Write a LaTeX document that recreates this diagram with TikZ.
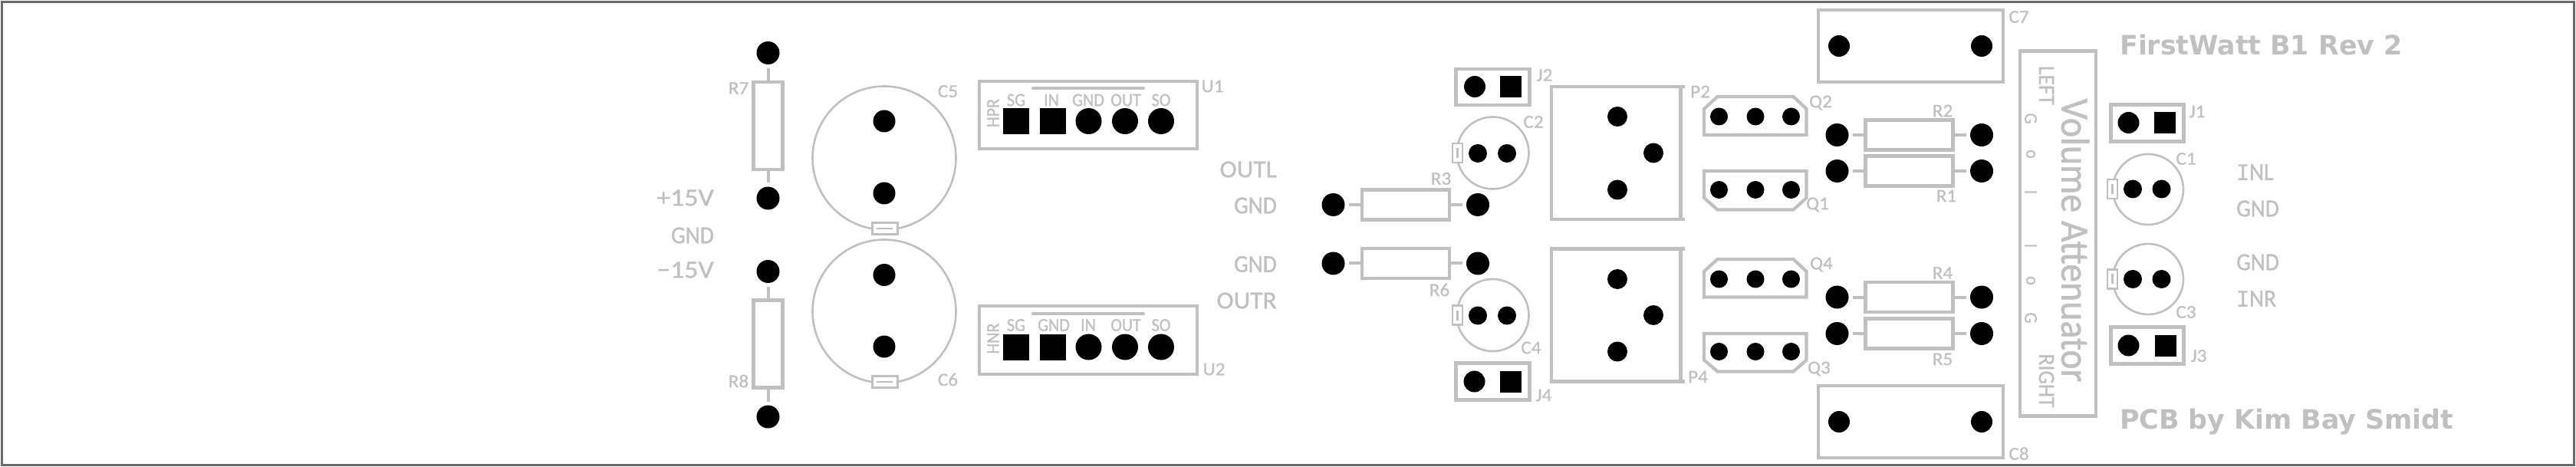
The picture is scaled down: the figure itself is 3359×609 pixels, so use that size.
\documentclass[tikz,border=0pt]{standalone}
\usepackage{fontspec}
\setmainfont{Carlito}[FakeBold=1.0,FakeStretch=0.92]
\newfontfamily\reffont{Carlito}[FakeBold=1.0,FakeStretch=1.05]
\newfontfamily\widefont{Carlito}[FakeBold=1.0,FakeStretch=1.12]
\newfontfamily\titlefont{DejaVu Sans}
\newfontfamily\serifi{DejaVu Sans Mono}[FakeBold=0.6]
\newcommand{\wideI}{{\serifi\fontsize{28}{28}\selectfont I}}
\definecolor{silk}{HTML}{C0C0C0}
\definecolor{framegray}{HTML}{6A6A6A}
\tikzset{
  hole/.style={circle,fill=black,inner sep=0pt,outer sep=0pt,minimum size=#1},
  hole/.default=30pt,
  sqpad/.style={rectangle,fill=black,inner sep=0pt,outer sep=0pt,minimum size=#1},
  sqpad/.default=34pt,
  body/.style={rectangle,draw=silk,line width=4.2pt,fill=white,inner sep=0pt,outer sep=0pt,minimum width=#1},
  lead/.style={draw=silk,line width=4pt,shorten <=5pt},
  can/.style={circle,draw=silk,line width=2.6pt,inner sep=0pt,outer sep=0pt,minimum size=#1},
  tab/.style={rectangle,draw=silk,fill=white,line width=2.2pt,inner sep=0pt,outer sep=0pt},
  tabbar/.style={draw=silk,line width=2.2pt},
  outline/.style={draw=silk,line width=4.2pt},
  lbl/.style={text=silk,inner sep=0pt,font=\reffont\fontsize{24}{24}\selectfont},
  pinlbl/.style={text=silk,inner sep=0pt,font=\fontsize{24}{24}\selectfont},
  biglbl/.style={text=silk,inner sep=0pt,font=\fontsize{32}{32}\selectfont},
  titlelbl/.style={text=silk,inner sep=0pt,anchor=west,font=\titlefont\bfseries\fontsize{34.8}{34.8}\selectfont},
}
\begin{document}
\begin{tikzpicture}[x=1pt,y=-1pt]
  \useasboundingbox (0,0) rectangle (3359,609);
  \draw[framegray,line width=3pt] (2.5,2.5) rectangle (3356.5,606.5);
  % supply side
  \node[hole] (R7a) at (1001.5,69) {};
  \node[hole] (R7b) at (1001.5,258.5) {};
  \node[body=38pt,minimum height=114pt] (R7) at (1001.5,164) {};
  \node[hole] (R8a) at (1001.5,354) {};
  \node[hole] (R8b) at (1001.5,543.5) {};
  \node[body=38pt,minimum height=114pt] (R8) at (1001.5,448.5) {};
  \path[lead] (R7a) -- (R7);
  \path[lead] (R7b) -- (R7);
  \path[lead] (R8a) -- (R8);
  \path[lead] (R8b) -- (R8);
  \node[lbl] (R7t) at (963,115) {R7};
  \node[lbl] (R8t) at (963,497) {R8};
  \node[biglbl,anchor=east,font=\widefont\fontsize{32}{32}\selectfont] (Vp) at (931,258) {+15V};
  \node[biglbl,anchor=east] (Vg) at (931,307) {GND};
  \node[biglbl,anchor=east,font=\widefont\fontsize{32}{32}\selectfont] (Vn) at (931,352) {−15V};
  \node[can=187pt] (C5) at (1153,206) {};
  \node[can=187pt] (C6) at (1153,406) {};
  \node[hole=29pt] (C5a) at (1153,158) {};
  \node[hole=29pt] (C5b) at (1153,252) {};
  \node[hole=29pt] (C6a) at (1153,358.5) {};
  \node[hole=29pt] (C6b) at (1153,452) {};
  \node[tab,minimum width=33pt,minimum height=15pt] (C5k) at (1154,298) {};
  \node[tab,minimum width=33pt,minimum height=15pt] (C6k) at (1154,498) {};
  \draw[tabbar] (1143,298) -- (1164,298);
  \draw[tabbar] (1143,498) -- (1164,498);
  \node[lbl] (C5t) at (1236,119) {C5};
  \node[lbl] (C6t) at (1236,495) {C6};
  % hybrid modules
  \node[body=284pt,minimum height=88pt] (U1) at (1419,150) {};
  \node[body=284pt,minimum height=89pt] (U2) at (1419,443.5) {};
  \draw[silk,line width=4pt,line cap=round] (1347,115) -- (1491,115);
  \draw[silk,line width=4pt,line cap=round] (1347,409) -- (1491,409);
  \node[sqpad] (U1p1) at (1325,158) {};
  \node[sqpad] (U1p2) at (1372.5,158) {};
  \node[hole=34pt] (U1p3) at (1419.5,158) {};
  \node[hole=34pt] (U1p4) at (1467,158) {};
  \node[hole=34pt] (U1p5) at (1514,158) {};
  \node[sqpad] (U2p1) at (1325,452.5) {};
  \node[sqpad] (U2p2) at (1372.5,452.5) {};
  \node[hole=34pt] (U2p3) at (1419.5,452.5) {};
  \node[hole=34pt] (U2p4) at (1467,452.5) {};
  \node[hole=34pt] (U2p5) at (1514,452.5) {};
  \node[pinlbl,rotate=90] (U1n) at (1295,147.5) {HPR};
  \node[pinlbl] (U1a) at (1325,130.5) {SG};
  \node[pinlbl] (U1b) at (1371,130.5) {IN};
  \node[pinlbl] (U1c) at (1419,130.5) {GND};
  \node[pinlbl] (U1d) at (1468,130.5) {OUT};
  \node[pinlbl] (U1e) at (1514,130.5) {SO};
  \node[pinlbl,rotate=90] (U2n) at (1295,441.5) {HNR};
  \node[pinlbl] (U2a) at (1325,424) {SG};
  \node[pinlbl] (U2b) at (1374,424) {GND};
  \node[pinlbl] (U2c) at (1419,424) {IN};
  \node[pinlbl] (U2d) at (1468,424) {OUT};
  \node[pinlbl] (U2e) at (1514,424) {SO};
  \node[lbl] (U1t) at (1581,112.5) {U1};
  \node[lbl] (U2t) at (1583,481.5) {U2};
  % outputs
  \node[biglbl,anchor=east,font=\reffont\fontsize{32}{32}\selectfont] (OL) at (1665,221) {OUTL};
  \node[biglbl,anchor=east] (OLg) at (1665,268) {GND};
  \node[biglbl,anchor=east] (ORg) at (1665,344.5) {GND};
  \node[biglbl,anchor=east,font=\reffont\fontsize{32}{32}\selectfont] (OR) at (1665,392) {OUTR};
  \node[hole] (R3a) at (1738.5,267) {};
  \node[hole] (R3b) at (1927,267) {};
  \node[body=114pt,minimum height=39pt] (R3) at (1833,267) {};
  \node[hole] (R6a) at (1738.5,343.5) {};
  \node[hole] (R6b) at (1927,343.5) {};
  \node[body=114pt,minimum height=39pt] (R6) at (1833,343.5) {};
  \path[lead] (R3a) -- (R3);
  \path[lead] (R3b) -- (R3);
  \path[lead] (R6a) -- (R6);
  \path[lead] (R6b) -- (R6);
  \node[lbl] (R3t) at (1879,233) {R3};
  \node[lbl] (R6t) at (1877,378) {R6};
  \node[body=96pt,minimum height=47pt] (J2) at (1946.5,113.5) {};
  \node[hole=28pt] (J2a) at (1923,113) {};
  \node[sqpad=28pt] (J2b) at (1970,113) {};
  \node[lbl] (J2t) at (2014,98) {J2};
  \node[body=96pt,minimum height=48pt] (J4) at (1946.5,497.5) {};
  \node[hole=28pt] (J4a) at (1922.5,497.5) {};
  \node[sqpad=28pt] (J4b) at (1969.5,497.5) {};
  \node[lbl] (J4t) at (2013,515.5) {J4};
  \node[can=94pt] (C2) at (1946.5,199.5) {};
  \node[can=94pt] (C4) at (1946.5,411) {};
  \node[tab,minimum width=13pt,minimum height=25pt] (C2k) at (1900.5,199.5) {};
  \node[tab,minimum width=13pt,minimum height=25pt] (C4k) at (1900.5,411) {};
  \draw[tabbar] (1900.5,193) -- (1900.5,206);
  \draw[tabbar] (1900.5,404.5) -- (1900.5,417.5);
  \node[hole=24pt] (C2a) at (1927,200) {};
  \node[hole=24pt] (C2b) at (1965,200) {};
  \node[hole=24pt] (C4a) at (1927,411.5) {};
  \node[hole=24pt] (C4b) at (1965,411.5) {};
  \node[lbl] (C2t) at (1999.5,159) {C2};
  \node[lbl] (C4t) at (1996.5,453.5) {C4};
  % power devices
  \draw[outline] (2197,113) -- (2023,113) -- (2023,286) -- (2197,286) (2191.5,113) -- (2191.5,286);
  \draw[outline] (2197,324.5) -- (2023,324.5) -- (2023,497.5) -- (2197,497.5) (2191.5,324.5) -- (2191.5,497.5);
  \node[hole=26pt] (P2a) at (2109,152) {};
  \node[hole=26pt] (P2b) at (2156,199.5) {};
  \node[hole=26pt] (P2c) at (2109,247.5) {};
  \node[hole=26pt] (P4a) at (2109,364) {};
  \node[hole=26pt] (P4b) at (2156,411) {};
  \node[hole=26pt] (P4c) at (2109,458.5) {};
  \node[lbl] (P2t) at (2217,119.5) {P2};
  \node[lbl] (P4t) at (2214,491.5) {P4};
  \draw[outline] (2222,142) -- (2239.5,126) -- (2338.5,126) -- (2355.5,142) -- (2355.5,176) -- (2222,176) -- cycle;
  \draw[outline] (2222,223) -- (2355.5,223) -- (2355.5,258) -- (2338.5,273.5) -- (2239.5,273.5) -- (2222,258) -- cycle;
  \draw[outline] (2222,354) -- (2239.5,338) -- (2338.5,338) -- (2355.5,354) -- (2355.5,387.5) -- (2222,387.5) -- cycle;
  \draw[outline] (2222,435) -- (2355.5,435) -- (2355.5,469.5) -- (2338.5,484.5) -- (2239.5,484.5) -- (2222,469.5) -- cycle;
  \node[hole=23pt] (Q2a) at (2241.5,152) {};
  \node[hole=23pt] (Q2b) at (2289,152) {};
  \node[hole=23pt] (Q2c) at (2335.5,152) {};
  \node[hole=23pt] (Q1a) at (2241.5,247.5) {};
  \node[hole=23pt] (Q1b) at (2289,247.5) {};
  \node[hole=23pt] (Q1c) at (2335.5,247.5) {};
  \node[hole=23pt] (Q4a) at (2241.5,364) {};
  \node[hole=23pt] (Q4b) at (2289,364) {};
  \node[hole=23pt] (Q4c) at (2335.5,364) {};
  \node[hole=23pt] (Q3a) at (2241.5,458.5) {};
  \node[hole=23pt] (Q3b) at (2289,458.5) {};
  \node[hole=23pt] (Q3c) at (2335.5,458.5) {};
  \node[lbl] (Q2t) at (2374,134) {Q2};
  \node[lbl] (Q1t) at (2370,267) {Q1};
  \node[lbl] (Q4t) at (2375,345) {Q4};
  \node[lbl] (Q3t) at (2372,481) {Q3};
  % input resistors
  \node[hole] (R2a) at (2395.5,176) {};
  \node[hole] (R2b) at (2584,176) {};
  \node[body=114pt,minimum height=39pt] (R2) at (2489.5,176) {};
  \node[hole] (R1a) at (2395.5,223) {};
  \node[hole] (R1b) at (2584,223) {};
  \node[body=114pt,minimum height=39pt] (R1) at (2489.5,223) {};
  \node[hole] (R4a) at (2395.5,387.5) {};
  \node[hole] (R4b) at (2584,387.5) {};
  \node[body=114pt,minimum height=39pt] (R4) at (2489.5,387.5) {};
  \node[hole] (R5a) at (2395.5,435) {};
  \node[hole] (R5b) at (2584,435) {};
  \node[body=114pt,minimum height=39pt] (R5) at (2489.5,435) {};
  \path[lead] (R2a) -- (R2);
  \path[lead] (R2b) -- (R2);
  \path[lead] (R1a) -- (R1);
  \path[lead] (R1b) -- (R1);
  \path[lead] (R4a) -- (R4);
  \path[lead] (R4b) -- (R4);
  \path[lead] (R5a) -- (R5);
  \path[lead] (R5b) -- (R5);
  \node[lbl] (R2t) at (2533,144.5) {R2};
  \node[lbl] (R1t) at (2538,255.5) {R1};
  \node[lbl] (R4t) at (2533,356) {R4};
  \node[lbl] (R5t) at (2533,468.5) {R5};
  \node[body=241pt,minimum height=94pt] (C7) at (2491.5,60) {};
  \node[body=241pt,minimum height=94pt] (C8) at (2491.5,550) {};
  \node[hole=28pt] (C7a) at (2398,60) {};
  \node[hole=28pt] (C7b) at (2584,60) {};
  \node[hole=28pt] (C8a) at (2398,550) {};
  \node[hole=28pt] (C8b) at (2584,550) {};
  \node[lbl] (C7t) at (2632.5,22) {C7};
  \node[lbl] (C8t) at (2632.5,591.5) {C8};
  % attenuator
  \node[body=99pt,minimum height=476pt] (VA) at (2683.5,304.5) {};
  \node[text=silk,inner sep=0pt,rotate=-90,font=\fontsize{52}{52}\selectfont] (VAt) at (2706,313.5) {Volume Attenuator};
  \node[pinlbl,rotate=-90,font=\fontsize{30}{30}\selectfont] (VAl) at (2668.5,111.5) {LEFT};
  \node[pinlbl,rotate=-90,font=\fontsize{30}{30}\selectfont] (VAr) at (2668.5,496.5) {RIGHT};
  \node[pinlbl,rotate=-90] (VA1) at (2648,154.5) {G};
  \node[pinlbl,rotate=-90] (VA2) at (2648,201) {o};
  \node[pinlbl,rotate=-90] (VA3) at (2648,250.5) {I};
  \node[pinlbl,rotate=-90] (VA4) at (2648,320.5) {I};
  \node[pinlbl,rotate=-90] (VA5) at (2648,366) {o};
  \node[pinlbl,rotate=-90] (VA6) at (2648,414.5) {G};
  % inputs
  \node[body=95pt,minimum height=48pt] (J1) at (2800,160.5) {};
  \node[hole=28pt] (J1a) at (2775.5,160) {};
  \node[sqpad=28pt] (J1b) at (2823,160) {};
  \node[lbl] (J1t) at (2865,145.5) {J1};
  \node[body=95pt,minimum height=48pt] (J3) at (2800,450.5) {};
  \node[hole=28pt] (J3a) at (2775.5,450.5) {};
  \node[sqpad=28pt] (J3b) at (2824,450.5) {};
  \node[lbl] (J3t) at (2867,464) {J3};
  \node[can=92pt] (C1) at (2801,247) {};
  \node[can=92pt] (C3) at (2801,364) {};
  \node[tab,minimum width=13pt,minimum height=25pt] (C1k) at (2754.5,246.5) {};
  \node[tab,minimum width=13pt,minimum height=25pt] (C3k) at (2754.5,364) {};
  \draw[tabbar] (2754.5,240) -- (2754.5,253);
  \draw[tabbar] (2754.5,357.5) -- (2754.5,370.5);
  \node[hole=24pt] (C1a) at (2781,246.5) {};
  \node[hole=24pt] (C1b) at (2818.5,246.5) {};
  \node[hole=24pt] (C3a) at (2781,364) {};
  \node[hole=24pt] (C3b) at (2818.5,364) {};
  \node[lbl] (C1t) at (2850.5,207) {C1};
  \node[lbl] (C3t) at (2850.5,407) {C3};
  \node[biglbl,anchor=west] (IL) at (2916,224.5) {\wideI NL};
  \node[biglbl,anchor=west] (ILg) at (2916,272) {GND};
  \node[biglbl,anchor=west] (IRg) at (2916,342) {GND};
  \node[biglbl,anchor=west] (IR) at (2916,389.5) {\wideI NR};
  \node[titlelbl] (T1) at (2764,59) {FirstWatt B1 Rev 2};
  \node[titlelbl] (T2) at (2764,550) {PCB by Kim Bay Smidt};
\end{tikzpicture}
\end{document}
